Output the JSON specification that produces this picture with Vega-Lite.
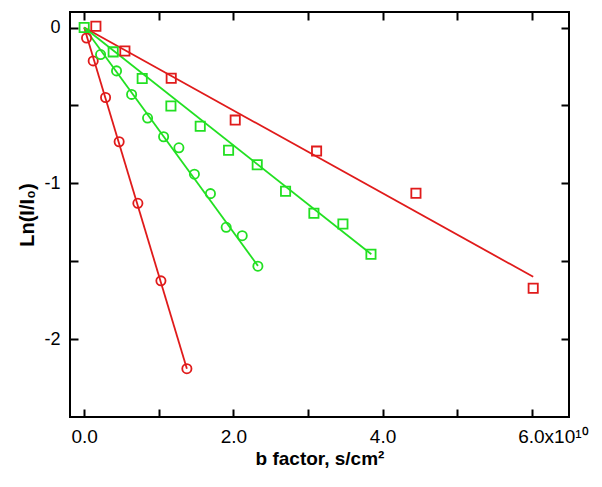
{
  "$schema": "https://vega.github.io/schema/vega-lite/v6.json",
  "width": 499,
  "height": 405,
  "autosize": "none",
  "padding": {"left": 70, "top": 12, "right": 33, "bottom": 70},
  "background": "white",
  "config": {
    "view": {"stroke": "black", "strokeWidth": 2},
    "axis": {
      "domain": false,
      "grid": false,
      "tickColor": "black",
      "tickWidth": 2,
      "tickSize": -8,
      "labelFont": "Liberation Sans",
      "labelColor": "black",
      "labelFlush": false,
      "labelOverlap": false,
      "labelBound": false,
      "titleFont": "Liberation Sans",
      "titleFontWeight": "bold",
      "titleColor": "black"
    }
  },
  "datasets": {
    "pts": [
      {"series": "A", "b": 0.032, "ln": -0.067},
      {"series": "A", "b": 0.121, "ln": -0.214},
      {"series": "A", "b": 0.287, "ln": -0.449},
      {"series": "A", "b": 0.469, "ln": -0.733},
      {"series": "A", "b": 0.720, "ln": -1.128},
      {"series": "A", "b": 1.029, "ln": -1.626},
      {"series": "A", "b": 1.377, "ln": -2.19},
      {"series": "D", "b": 0.157, "ln": 0.008},
      {"series": "D", "b": 0.546, "ln": -0.150},
      {"series": "D", "b": 1.167, "ln": -0.325},
      {"series": "D", "b": 2.025, "ln": -0.594},
      {"series": "D", "b": 3.116, "ln": -0.793},
      {"series": "D", "b": 4.448, "ln": -1.064},
      {"series": "D", "b": 6.02, "ln": -1.673},
      {"series": "B", "b": 0.22, "ln": -0.173},
      {"series": "B", "b": 0.434, "ln": -0.278},
      {"series": "B", "b": 0.636, "ln": -0.429},
      {"series": "B", "b": 0.850, "ln": -0.581},
      {"series": "B", "b": 1.065, "ln": -0.701},
      {"series": "B", "b": 1.27, "ln": -0.772},
      {"series": "B", "b": 1.478, "ln": -0.941},
      {"series": "B", "b": 1.693, "ln": -1.066},
      {"series": "B", "b": 1.904, "ln": -1.282},
      {"series": "B", "b": 2.119, "ln": -1.336},
      {"series": "B", "b": 2.329, "ln": -1.532},
      {"series": "C", "b": 0.0, "ln": 0.0},
      {"series": "C", "b": 0.389, "ln": -0.156},
      {"series": "C", "b": 0.778, "ln": -0.327},
      {"series": "C", "b": 1.163, "ln": -0.504},
      {"series": "C", "b": 1.556, "ln": -0.633},
      {"series": "C", "b": 1.936, "ln": -0.787},
      {"series": "C", "b": 2.32, "ln": -0.881},
      {"series": "C", "b": 2.70, "ln": -1.051},
      {"series": "C", "b": 3.08, "ln": -1.192},
      {"series": "C", "b": 3.469, "ln": -1.261},
      {"series": "C", "b": 3.845, "ln": -1.455}
    ],
    "fits": [
      {"series": "A", "b": 0.0, "ln": 0.0},
      {"series": "A", "b": 1.377, "ln": -2.19},
      {"series": "D", "b": 0.0, "ln": 0.0},
      {"series": "D", "b": 6.02, "ln": -1.60},
      {"series": "B", "b": 0.0, "ln": 0.0},
      {"series": "B", "b": 2.33, "ln": -1.53},
      {"series": "C", "b": 0.0, "ln": 0.0},
      {"series": "C", "b": 3.85, "ln": -1.455}
    ]
  },
  "layer": [
    {
      "data": {"name": "fits"},
      "mark": {"type": "line", "strokeWidth": 1.8, "clip": true},
      "encoding": {
        "x": {
          "field": "b", "type": "quantitative",
          "scale": {"domain": [-0.19, 6.5], "nice": false, "zero": false},
          "axis": {
            "orient": "bottom",
            "values": [0, 1, 2, 3, 4, 5, 6],
            "labelExpr": "datum.value % 2 == 0 ? (datum.value == 6 ? '6.0x10¹⁰' : format(datum.value, '.1f')) : ''",
            "labelFontSize": 19,
            "labelPadding": 18,
            "labelAlign": {"condition": {"test": "datum.value == 6", "value": "left"}, "value": "center"},
            "labelOffset": {"condition": {"test": "datum.value == 6", "value": -14}, "value": 0},
            "title": "b factor, s/cm²",
            "titleFontSize": 19,
            "titlePadding": 3
          }
        },
        "y": {
          "field": "ln", "type": "quantitative",
          "scale": {"domain": [-2.5, 0.1], "nice": false, "zero": false},
          "axis": {
            "orient": "left",
            "values": [0, -0.5, -1, -1.5, -2],
            "labelExpr": "datum.value % 1 == 0 ? toString(datum.value) : ''",
            "labelFontSize": 18,
            "labelPadding": 18,
            "title": "Ln(I/I₀)",
            "titleFontSize": 20,
            "titlePadding": 6
          }
        },
        "color": {
          "field": "series", "type": "nominal",
          "scale": {"domain": ["A", "B", "C", "D"], "range": ["#e01b1b", "#22e022", "#22e022", "#e01b1b"]},
          "legend": null
        },
        "detail": {"field": "series"}
      }
    },
    {
      "data": {"name": "pts"},
      "mark": {"type": "point", "filled": false, "strokeWidth": 1.8, "opacity": 1},
      "encoding": {
        "x": {
          "field": "b", "type": "quantitative",
          "scale": {"domain": [-0.19, 6.5], "nice": false, "zero": false},
          "axis": {"orient": "top", "values": [0, 1, 2, 3, 4, 5, 6], "labels": false, "title": null}
        },
        "y": {
          "field": "ln", "type": "quantitative",
          "scale": {"domain": [-2.5, 0.1], "nice": false, "zero": false},
          "axis": {"orient": "right", "values": [0, -0.5, -1, -1.5, -2], "labels": false, "title": null}
        },
        "color": {
          "field": "series", "type": "nominal",
          "scale": {"domain": ["A", "B", "C", "D"], "range": ["#e01b1b", "#22e022", "#22e022", "#e01b1b"]},
          "legend": null
        },
        "shape": {
          "field": "series", "type": "nominal",
          "scale": {"domain": ["A", "B", "C", "D"], "range": ["circle", "circle", "square", "square"]},
          "legend": null
        },
        "size": {
          "field": "series", "type": "nominal",
          "scale": {"domain": ["A", "B", "C", "D"], "range": [85, 85, 64, 64]},
          "legend": null
        }
      }
    }
  ],
  "resolve": {"axis": {"x": "independent", "y": "independent"}}
}
